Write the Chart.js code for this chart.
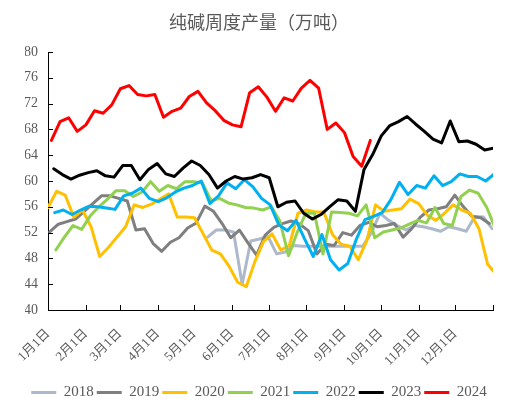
<!DOCTYPE html>
<html>
<head>
<meta charset="utf-8">
<script src="https://cdn.jsdelivr.net/npm/chart.js@4.4.1/dist/chart.umd.min.js"></script>
<style>
  html, body { margin: 0; padding: 0; background: #fff; }
  #wrap { width: 527px; height: 412px; }
</style>
</head>
<body>
<div id="wrap"><canvas id="chart"></canvas></div>
<script>
// tick labels on the date axis
var monthLabels = ["1月1日", "2月1日", "3月1日", "4月1日", "5月1日", "6月1日",
                   "7月1日", "8月1日", "9月1日", "10月1日", "11月1日", "12月1日"];
var monthStartDays = [0, 31, 59, 90, 120, 151, 181, 212, 243, 273, 304, 334, 365];

var years = ["2018", "2019", "2020", "2021", "2022", "2023", "2024"];
// day of year of each series' first weekly reading
var firstWeekDay = [3.7, 1.4, 0, 6.4, 5.5, 4.7, 2.8];
var weekStep = 7.07;

// weekly output, 10k tonnes
var output2018 = [null, null, null, null, null, null, null, null, null, null,
  null, null, null, null, null, null, null, null,
  51.3, 52.4, 52.4, 52.1, 44.0, 50.7, 51.0, 51.4, 48.7, 49.0,
  50.0, 49.9, 49.9, 49.9, 49.9, 49.9, 49.9, 49.9, 49.9,
  52.0, 55.0, 53.9, 53.1, 52.4, 53.1, 52.9, 52.6, 52.2, 52.9, 52.6, 52.2, 54.5, 54.4, 52.6];
var output2019 = [52.1, 53.3, 53.7, 54.1, 55.3, 56.5, 57.7, 57.7, 57.3, 56.9,
  52.4, 52.6, 50.3, 49.1, 50.5, 51.2, 52.7, 53.5, 56.1, 55.3,
  53.4, 51.2, 52.4, 50.4, 48.5, 51.6, 52.8,
  53.4, 53.8, 53.3, 52.3, 48.7, 50.2, 50.0, 52.0, 51.6, 53.1,
  53.6, 52.9, 53.1, 53.4, 51.3, 52.6, 54.4, 55.5, 55.7, 56.0,
  57.8, 56.0, 54.5, 54.3, 53.4];
var output2020 = [55.9, 58.4, 57.8, 54.4, 55.5, 52.9, 48.3, 49.7, 51.3, 52.9,
  56.3, 55.9, 56.4, 57.2, 58.0, 54.4, 54.4, 54.3, 51.8, 49.3,
  48.7, 46.8, 44.3, 43.6, 47.5, 50.6, 51.8,
  49.3, 50.0, 55.0, 55.5, 55.2, 55.2, 51.7, 50.2, 49.9, 47.8,
  50.8, 56.3, 55.3, 55.5, 55.7, 57.2, 56.5, 54.7, 53.9, 55.0,
  56.3, 55.5, 55.0, 52.6, 47.1, 45.5];
var output2021 = [49.3, 51.3, 53.1, 52.5, 54.6, 56.0, 57.2, 58.5, 58.5, 57.6,
  58.3, 59.9, 58.4, 59.3, 58.8, 59.9, 59.9, 59.7, 57.0, 57.3,
  56.6, 56.3, 55.9, 55.8, 55.5, 56.0, 53.8,
  48.4, 52.0, 55.0, 55.0, 48.7, 55.2, 55.1, 55.0, 54.6, 56.3,
  51.2, 52.1, 52.4, 52.7, 53.3, 53.9, 53.5, 55.9, 53.4, 53.1,
  57.6, 58.6, 58.1, 55.9, 52.6];
var output2022 = [55.1, 55.5, 54.8, 55.5, 56.1, 56.0, 55.8, 55.6, 57.7, 58.1,
  58.9, 57.3, 56.8, 57.4, 58.3, 58.9, 59.3, 60.0, 56.5, 57.7,
  59.7, 58.8, 60.2, 59.1, 57.3, 56.3, 53.2,
  52.3, 53.9, 51.0, 48.3, 51.7, 47.8, 46.2, 47.2, 51.0, 54.0,
  54.5, 55.1, 57.1, 59.8, 57.9, 59.3, 58.9, 60.8, 59.3, 59.9,
  61.1, 60.7, 60.7, 60.0, 61.1];
var output2023 = [61.9, 61.0, 60.3, 60.9, 61.3, 61.6, 60.8, 60.6, 62.4, 62.4,
  60.2, 61.8, 62.7, 61.1, 60.7, 62.0, 63.1, 62.4, 61.0, 58.9,
  60.0, 60.7, 60.3, 60.5, 61.0, 60.5, 56.0,
  56.7, 56.9, 55.0, 54.1, 54.8, 56.0, 57.1, 56.9, 55.3, 61.8,
  64.1, 67.0, 68.6, 69.2, 70.0, 68.8, 67.7, 66.5, 65.9, 69.3,
  66.1, 66.2, 65.7, 64.8, 65.1];
var output2024 = [66.3, 69.2, 69.8, 67.7, 68.7, 70.9, 70.5, 71.8, 74.3, 74.8,
  73.4, 73.2, 73.4, 69.9, 70.8, 71.3, 73.1, 73.9, 72.1, 70.9,
  69.4, 68.7, 68.4, 73.7, 74.6, 73.0, 70.8,
  72.9, 72.4, 74.4, 75.6, 74.4, 68.0, 69.0, 67.5, 63.8, 62.3, 66.3];

var yTicks = [40, 44, 48, 52, 56, 60, 64, 68, 72, 76, 80];

var allSeries = [output2018, output2019, output2020, output2021, output2022, output2023, output2024];
var lineColors = ["#ADB9CA", "#7F7F7F", "#FFC000", "#92D050", "#00B0F0", "#000000", "#FF0000"];

var textColor = "#595959";

// build datasets, later years painted on top like the original
var datasets = [];
for (var s = 0; s < years.length; s++) {
  var pts = allSeries[s].map(function(v, i) {
    return { x: firstWeekDay[s] + i * weekStep, y: v };
  });
  datasets.push({
    label: years[s],
    data: pts,
    borderColor: lineColors[s],
    backgroundColor: lineColors[s],
    borderWidth: 3,
    pointRadius: 0,
    tension: 0,
    fill: false,
    borderJoinStyle: "round",
    borderCapStyle: "round",
    order: years.length - s
  });
}

// small inside tick marks on both axes
var innerTicks = {
  id: "innerTicks",
  afterDraw: function(chart) {
    var ctx = chart.ctx;
    var xs = chart.scales.x, ys = chart.scales.y;
    ctx.save();
    ctx.strokeStyle = "#000";
    ctx.lineWidth = 1;
    ctx.beginPath();
    monthStartDays.forEach(function(d) {
      var px = Math.round(xs.getPixelForValue(d)) + 0.5;
      ctx.moveTo(px, ys.bottom);
      ctx.lineTo(px, ys.bottom - 5);
    });
    yTicks.forEach(function(v) {
      var py = Math.round(ys.getPixelForValue(v)) + 0.5;
      ctx.moveTo(xs.left, py);
      ctx.lineTo(xs.left + 5, py);
    });
    ctx.stroke();
    ctx.restore();
  }
};

var ctx = document.getElementById("chart").getContext("2d");
new Chart(ctx, {
  type: "line",
  data: { datasets: datasets },
  options: {
    responsive: true,
    maintainAspectRatio: false,
    animation: false,
    layout: { padding: { left: 25, right: 34, top: 0, bottom: 2 } },
    plugins: {
      title: {
        display: true,
        text: "纯碱周度产量（万吨）",
        color: textColor,
        font: { family: "'Noto Sans CJK SC'", size: 18, weight: "normal" },
        padding: { top: 11, bottom: 19.4 }
      },
      legend: {
        position: "bottom",
        labels: {
          boxWidth: 25,
          boxHeight: 3,
          padding: 3,
          color: textColor,
          font: { family: "'Liberation Serif'", size: 15 },
          sort: function(a, b) { return a.datasetIndex - b.datasetIndex; },
          generateLabels: function(chart) {
            var items = Chart.defaults.plugins.legend.labels.generateLabels(chart);
            return items.map(function(it) {
              it.lineWidth = 0;
              it.fillStyle = it.strokeStyle;
              return it;
            });
          }
        }
      },
      tooltip: { enabled: false }
    },
    scales: {
      x: {
        type: "linear",
        min: 0,
        max: 365,
        afterBuildTicks: function(scale) {
          scale.ticks = monthStartDays.map(function(d) { return { value: d }; });
        },
        afterFit: function(scale) {
          scale.height = 72;
          scale.paddingLeft = 0;
          scale.paddingRight = 0;
        },
        grid: { display: false, drawTicks: false },
        border: { display: true, color: "#000", width: 1 },
        ticks: {
          autoSkip: false,
          minRotation: 45,
          maxRotation: 45,
          padding: 16,
          color: textColor,
          font: { family: "'Liberation Serif', 'Noto Sans CJK SC'", size: 13 },
          callback: function(value, index) {
            return monthLabels[index] || "";
          }
        }
      },
      y: {
        min: 40,
        max: 80,
        afterBuildTicks: function(scale) {
          scale.ticks = yTicks.map(function(v) { return { value: v }; });
        },
        afterFit: function(scale) {
          scale.width = 23;
          scale.paddingTop = 0;
          scale.paddingBottom = 0;
        },
        grid: { display: false, drawTicks: false },
        border: { display: true, color: "#000", width: 1 },
        ticks: {
          padding: 10,
          color: textColor,
          font: { family: "'Liberation Serif'", size: 14 }
        }
      }
    }
  },
  plugins: [innerTicks]
});
</script>
</body>
</html>
